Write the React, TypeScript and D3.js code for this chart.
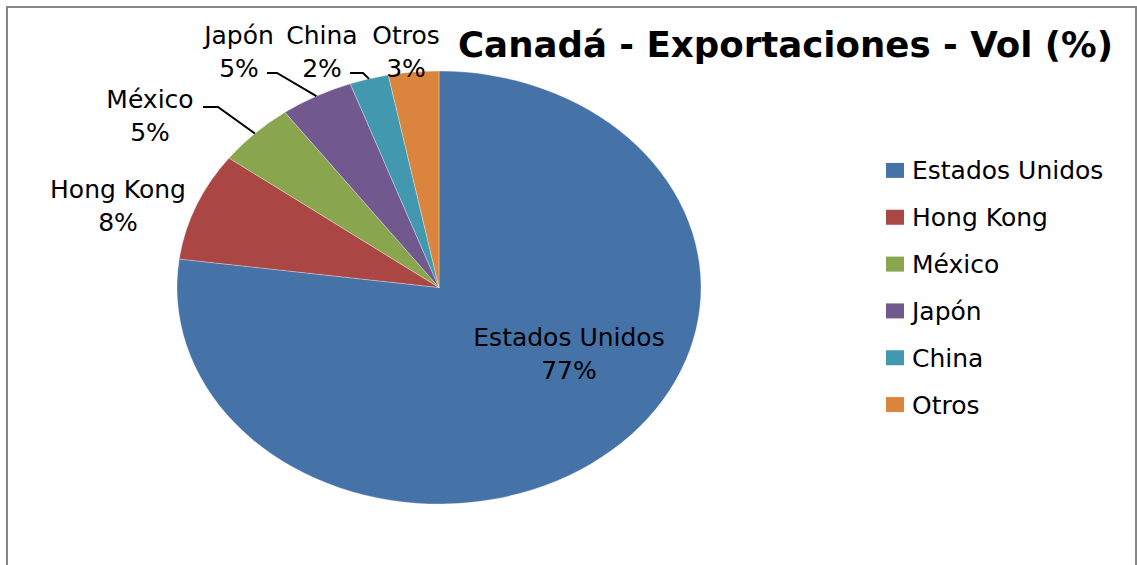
import React from "react";
import * as d3 from "d3";

const categories = ["Estados Unidos", "Hong Kong", "México", "Japón", "China", "Otros"];
const values = [77.1, 8.1, 4.8, 4.5, 2.4, 3.1];
const colors = ["#4572A7", "#AA4643", "#89A54E", "#71588F", "#4198AF", "#DB843D"];
const title = "Canadá - Exportaciones - Vol (%)";

// layout (label anchors: center x, first baseline) and leader lines
const labelLayout: Record<string, { x: number; y: number; leader?: [number, number, number, number] }> = {
  "Estados Unidos": { x: 569, y: 346 },
  "Hong Kong": { x: 118, y: 198 },
  "México": { x: 150, y: 108, leader: [203, 107, 218, 107] },
  "Japón": { x: 239, y: 44, leader: [267, 73, 277, 73] },
  "China": { x: 322, y: 44, leader: [350, 73, 363, 73] },
  "Otros": { x: 406, y: 44 },
};

const W = 1137;
const H = 565;
const cx = 439;
const cy = 287.5;
const rx = 262;
const ry = 216.5;

export default function App() {
  const data = categories.map((c, i) => ({ name: c, value: values[i], color: colors[i] }));
  const pie = d3.pie<any>().sort(null).value((d: any) => d.value).startAngle(0).endAngle(2 * Math.PI);
  const arcs = pie(data);
  const arcGen = d3.arc<any>().innerRadius(0).outerRadius(ry);
  const font = "'DejaVu Sans', Verdana, sans-serif";
  const legendY = d3.scaleBand().domain(categories).range([147, 428]);

  return (
    <svg width={W} height={H} style={{ position: "absolute", left: 0, top: 0, background: "#fff" }}>
      <rect x={7} y={7} width={1129} height={620} fill="#fff" stroke="#868686" strokeWidth={2} />
      <g transform={`translate(${cx},${cy}) scale(${rx / ry},1)`}>
        {arcs.map((a: any) => (
          <path key={a.data.name} d={arcGen(a) as string} fill={a.data.color} stroke="#ffffff" strokeOpacity={0.5} strokeWidth={0.6} vectorEffect="non-scaling-stroke" />
        ))}
      </g>
      {arcs.map((a: any) => {
        const L = labelLayout[a.data.name];
        const mid = (a.startAngle + a.endAngle) / 2;
        const ex = cx + rx * Math.sin(mid);
        const ey = cy - ry * Math.cos(mid);
        return (
          <g key={"l" + a.data.name}>
            {L.leader && (
              <polyline
                points={`${L.leader[0]},${L.leader[1]} ${L.leader[2]},${L.leader[3]} ${ex},${ey}`}
                fill="none"
                stroke="#000"
                strokeWidth={2}
              />
            )}
            <text x={L.x} y={L.y} textAnchor="middle" fontFamily={font} fontSize={25} fill="#000">
              {a.data.name}
            </text>
            <text x={L.x} y={L.y + 33} textAnchor="middle" fontFamily={font} fontSize={25} fill="#000">
              {Math.round(a.data.value) + "%"}
            </text>
          </g>
        );
      })}
      <text x={458} y={57} fontFamily={font} fontWeight="bold" fontSize={36} fill="#000" textLength={655} lengthAdjust="spacingAndGlyphs">
        {title}
      </text>
      {data.map((d) => {
        const y = (legendY(d.name) as number) + legendY.bandwidth() / 2;
        return (
          <g key={"lg" + d.name}>
            <rect x={886} y={y - 7.5} width={18} height={15} fill={d.color} />
            <text x={912} y={y + 9} fontFamily={font} fontSize={25} fill="#000">
              {d.name}
            </text>
          </g>
        );
      })}
    </svg>
  );
}
